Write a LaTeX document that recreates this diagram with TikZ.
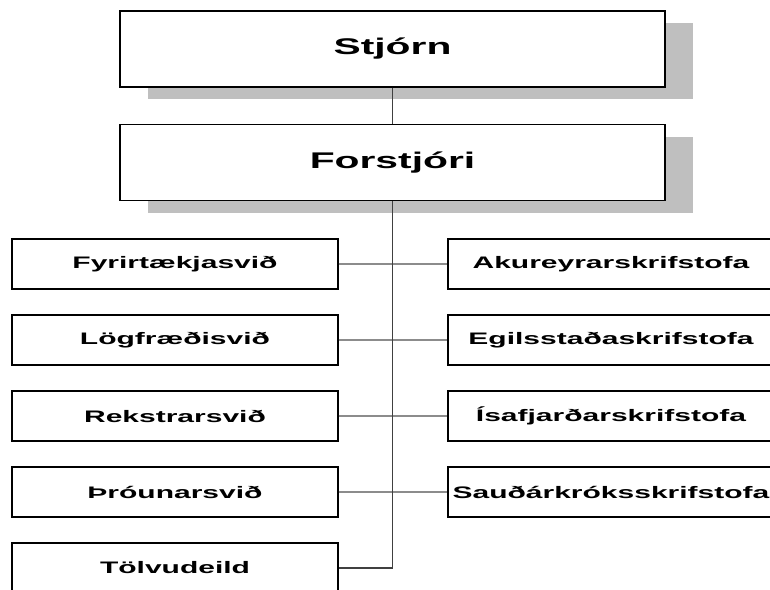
\documentclass[tikz,border=0pt]{standalone}
\usepackage{fontspec}
\usepackage{tikz}
\usetikzlibrary{shadows}
\newfontfamily\orgfont[FakeStretch=1.8]{Liberation Sans}

\tikzset{
	topbox/.style={draw=black, line width=1pt, fill=white, inner sep=0pt,
		minimum width=408.75pt, minimum height=57pt,
		font=\orgfont\bfseries\fontsize{17}{19}\selectfont,
		drop shadow={shadow xshift=21pt, shadow yshift=-9pt, fill=black!25, opacity=1}},
	unitbox/.style={draw=black, line width=1pt, fill=white, inner sep=0pt,
		minimum width=244.5pt, minimum height=37.5pt,
		font=\orgfont\bfseries\fontsize{12.5}{14}\selectfont},
	vline/.style={draw=black!75, line width=0.8pt},
	hline/.style={draw=black!45, line width=0.8pt}
}

\begin{document}
\begin{tikzpicture}[x=0.75pt,y=-0.75pt]
		\useasboundingbox (0,0) rectangle (770,589);

		\node[topbox] (stjorn) at (392.5,49) {Stjórn};
		\node[topbox] (forstjori) at (392.5,162.5) {Forstjóri};

		\foreach \txt [count=\i] in {Fyrirtækjasvið,Lögfræðisvið,Rekstrarsvið,Þróunarsvið,Tölvudeild} {
			\node[unitbox] (svid\i) at (175,{264+76*(\i-1)}) {\txt};
		}
		\foreach \txt [count=\i] in {Akureyrarskrifstofa,Egilsstaðaskrifstofa,Ísafjarðarskrifstofa,Sauðárkróksskrifstofa} {
			\node[unitbox] (skrif\i) at (611,{264+76*(\i-1)}) {\txt};
		}

		\draw[vline] (stjorn) -- (forstjori);
		\foreach \i in {1,...,4} {
			\draw[hline] (svid\i) -- (skrif\i);
		}
		\draw[vline] (forstjori.south) |- (svid5.east);
	\end{tikzpicture}
\end{document}
